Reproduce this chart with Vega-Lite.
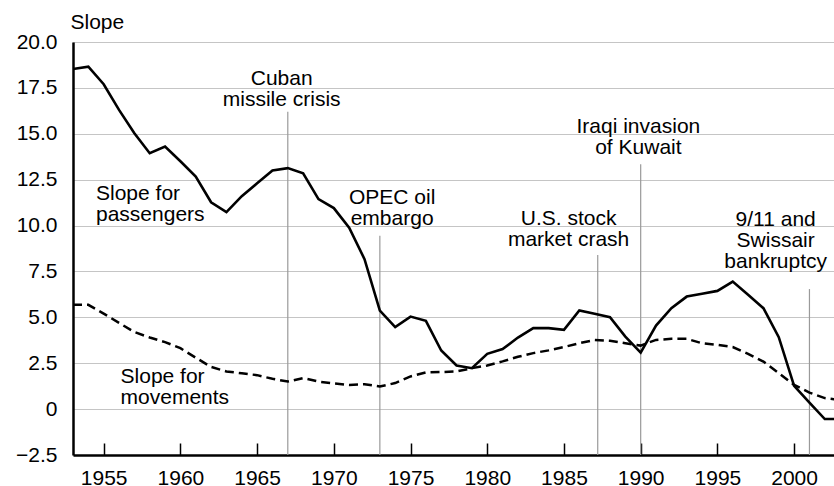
{
  "$schema": "https://vega.github.io/schema/vega-lite/v6.json",
  "width": 761,
  "height": 413,
  "autosize": {"type": "none"},
  "padding": {"left": 73, "top": 42, "right": 0, "bottom": 31},
  "background": "white",
  "config": {
    "view": {"stroke": null},
    "font": "Liberation Sans",
    "axis": {"labelFont": "Liberation Sans", "titleFont": "Liberation Sans"}
  },
  "datasets": {
    "passengers": [
      {"year": 1953, "value": 18.53}, {"year": 1954, "value": 18.66}, {"year": 1955, "value": 17.7},
      {"year": 1956, "value": 16.3}, {"year": 1957, "value": 15.03}, {"year": 1958, "value": 13.94},
      {"year": 1959, "value": 14.3}, {"year": 1960, "value": 13.5}, {"year": 1961, "value": 12.67},
      {"year": 1962, "value": 11.27}, {"year": 1963, "value": 10.73}, {"year": 1964, "value": 11.6},
      {"year": 1965, "value": 12.3}, {"year": 1966, "value": 13.0}, {"year": 1967, "value": 13.13},
      {"year": 1968, "value": 12.85}, {"year": 1969, "value": 11.44}, {"year": 1970, "value": 10.95},
      {"year": 1971, "value": 9.89}, {"year": 1972, "value": 8.17}, {"year": 1973, "value": 5.37},
      {"year": 1974, "value": 4.47}, {"year": 1975, "value": 5.04}, {"year": 1976, "value": 4.81},
      {"year": 1977, "value": 3.19}, {"year": 1978, "value": 2.38}, {"year": 1979, "value": 2.23},
      {"year": 1980, "value": 3.01}, {"year": 1981, "value": 3.27}, {"year": 1982, "value": 3.9},
      {"year": 1983, "value": 4.41}, {"year": 1984, "value": 4.41}, {"year": 1985, "value": 4.32},
      {"year": 1986, "value": 5.38}, {"year": 1987, "value": 5.19}, {"year": 1988, "value": 5.01},
      {"year": 1989, "value": 3.95}, {"year": 1990, "value": 3.08}, {"year": 1991, "value": 4.55},
      {"year": 1992, "value": 5.5}, {"year": 1993, "value": 6.13}, {"year": 1994, "value": 6.28},
      {"year": 1995, "value": 6.44}, {"year": 1996, "value": 6.95}, {"year": 1997, "value": 6.23},
      {"year": 1998, "value": 5.5}, {"year": 1999, "value": 3.92}, {"year": 2000, "value": 1.27},
      {"year": 2001, "value": 0.35}, {"year": 2002, "value": -0.54}, {"year": 2003, "value": -0.54}
    ],
    "movements": [
      {"year": 1953, "value": 5.68}, {"year": 1954, "value": 5.68}, {"year": 1955, "value": 5.2},
      {"year": 1956, "value": 4.7}, {"year": 1957, "value": 4.2}, {"year": 1958, "value": 3.9},
      {"year": 1959, "value": 3.65}, {"year": 1960, "value": 3.32}, {"year": 1961, "value": 2.8},
      {"year": 1962, "value": 2.3}, {"year": 1963, "value": 2.05}, {"year": 1964, "value": 1.95},
      {"year": 1965, "value": 1.85}, {"year": 1966, "value": 1.65}, {"year": 1967, "value": 1.5},
      {"year": 1968, "value": 1.69}, {"year": 1969, "value": 1.5}, {"year": 1970, "value": 1.4},
      {"year": 1971, "value": 1.32}, {"year": 1972, "value": 1.36}, {"year": 1973, "value": 1.23},
      {"year": 1974, "value": 1.42}, {"year": 1975, "value": 1.78}, {"year": 1976, "value": 2.0},
      {"year": 1977, "value": 2.02}, {"year": 1978, "value": 2.05}, {"year": 1979, "value": 2.23},
      {"year": 1980, "value": 2.38}, {"year": 1981, "value": 2.6}, {"year": 1982, "value": 2.85},
      {"year": 1983, "value": 3.05}, {"year": 1984, "value": 3.2}, {"year": 1985, "value": 3.38},
      {"year": 1986, "value": 3.59}, {"year": 1987, "value": 3.77}, {"year": 1988, "value": 3.72},
      {"year": 1989, "value": 3.59}, {"year": 1990, "value": 3.46}, {"year": 1991, "value": 3.77},
      {"year": 1992, "value": 3.83}, {"year": 1993, "value": 3.83}, {"year": 1994, "value": 3.59},
      {"year": 1995, "value": 3.5}, {"year": 1996, "value": 3.38}, {"year": 1997, "value": 3.01},
      {"year": 1998, "value": 2.59}, {"year": 1999, "value": 1.96}, {"year": 2000, "value": 1.32},
      {"year": 2001, "value": 0.9}, {"year": 2002, "value": 0.6}, {"year": 2003, "value": 0.5}
    ],
    "events": [
      {"year": 1967, "top": 16.2, "label": "Cuban\nmissile crisis", "lx": 1966.6, "ly": 17.66},
      {"year": 1973, "top": 9.44, "label": "OPEC oil\nembargo", "lx": 1973.8, "ly": 11.18},
      {"year": 1987.2, "top": 8.4, "label": "U.S. stock\nmarket crash", "lx": 1985.3, "ly": 10.03},
      {"year": 1990, "top": 13.34, "label": "Iraqi invasion\nof Kuwait", "lx": 1989.85, "ly": 15.03},
      {"year": 2001, "top": 6.54, "label": "9/11 and\nSwissair\nbankruptcy", "lx": 1998.8, "ly": 9.95}
    ],
    "serieslabels": [
      {"label": "Slope for\npassengers", "lx": 1954.5, "ly": 11.4},
      {"label": "Slope for\nmovements", "lx": 1956.1, "ly": 1.42}
    ]
  },
  "layer": [
    {
      "data": {"name": "events"},
      "mark": {"type": "rule", "color": "#9a9a9a", "strokeWidth": 1.2},
      "encoding": {
        "x": {
          "field": "year", "type": "quantitative",
          "scale": {"domain": [1953, 2002.6], "nice": false, "zero": false},
          "axis": {
            "values": [1955, 1960, 1965, 1970, 1975, 1980, 1985, 1990, 1995, 2000],
            "format": "d", "title": null, "grid": false,
            "domainColor": "black", "domainWidth": 2.5,
            "tickColor": "black", "tickWidth": 1.5, "tickSize": -12,
            "labelFontSize": 21, "labelColor": "black", "labelPadding": 24,
            "labelBaseline": "top"
          }
        },
        "y": {
          "field": "top", "type": "quantitative",
          "scale": {"domain": [-2.5, 20], "nice": false, "zero": false},
          "axis": {
            "values": [-2.5, 0, 2.5, 5, 7.5, 10, 12.5, 15, 17.5, 20],
            "labelExpr": "datum.value == 0 ? '0' : replace(format(datum.value, '.1f'), '-', '\u2212')",
            "grid": true, "gridColor": "#8a8a8a", "gridDash": [1, 1], "gridWidth": 1,
            "ticks": false, "labelPadding": 16,
            "domainColor": "black", "domainWidth": 2.5,
            "labelFontSize": 21, "labelColor": "black",
            "title": "Slope", "titleAngle": 0, "titleAlign": "left", "titleBaseline": "alphabetic",
            "titleX": -3, "titleY": -14, "titleFontSize": 21, "titleFontWeight": "normal", "titleColor": "black"
          }
        },
        "y2": {"datum": -2.5}
      }
    },
    {
      "data": {"name": "movements"},
      "mark": {"type": "line", "color": "black", "strokeWidth": 2.5, "strokeDash": [9, 5], "clip": true},
      "encoding": {
        "x": {"field": "year", "type": "quantitative"},
        "y": {"field": "value", "type": "quantitative"}
      }
    },
    {
      "data": {"name": "passengers"},
      "mark": {"type": "line", "color": "black", "strokeWidth": 2.6, "clip": true},
      "encoding": {
        "x": {"field": "year", "type": "quantitative"},
        "y": {"field": "value", "type": "quantitative"}
      }
    },
    {
      "data": {"name": "events"},
      "mark": {"type": "text", "align": "center", "baseline": "alphabetic", "fontSize": 21, "lineBreak": "\n", "lineHeight": 21, "color": "black"},
      "encoding": {
        "x": {"field": "lx", "type": "quantitative"},
        "y": {"field": "ly", "type": "quantitative"},
        "text": {"field": "label"}
      }
    },
    {
      "data": {"name": "serieslabels"},
      "mark": {"type": "text", "align": "left", "baseline": "alphabetic", "fontSize": 21, "lineBreak": "\n", "lineHeight": 21, "color": "black"},
      "encoding": {
        "x": {"field": "lx", "type": "quantitative"},
        "y": {"field": "ly", "type": "quantitative"},
        "text": {"field": "label"}
      }
    }
  ]
}
